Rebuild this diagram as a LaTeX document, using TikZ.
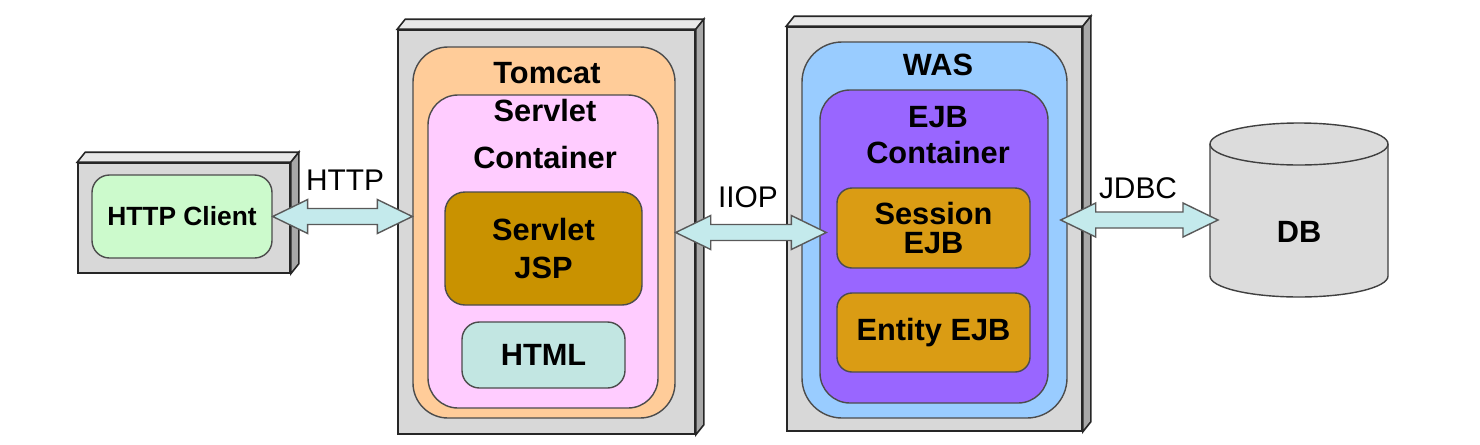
\documentclass[tikz,border=0pt]{standalone}
\usepackage{fontspec}
\setmainfont{Liberation Sans}
\usetikzlibrary{calc}
\newlength\pu
\setlength\pu{0.02cm}
\definecolor{framefront}{HTML}{D8D8D8}
\definecolor{frametop}{HTML}{E8E8E8}
\definecolor{frameside}{HTML}{A8A8A8}
\definecolor{clientgreen}{HTML}{CCFACC}
\definecolor{tomcatorange}{HTML}{FFCC99}
\definecolor{servletpink}{HTML}{FFCCFF}
\definecolor{jspbrown}{HTML}{C99200}
\definecolor{htmlcyan}{HTML}{C2E6E2}
\definecolor{wasblue}{HTML}{99CCFF}
\definecolor{ejbpurple}{HTML}{9966FF}
\definecolor{beanorange}{HTML}{DA9C14}
\definecolor{pipecyan}{HTML}{C4EAEC}
\definecolor{dbgray}{HTML}{DCDCDC}
\begin{document}
\begin{tikzpicture}[x=\pu, y=-\pu,
  serverbox/.style={draw=black!85, line width=0.9pt, fill=framefront, inner sep=0pt},
  holder/.style={draw=black!70, line width=0.8pt, inner sep=0pt},
  boxtext/.style={font=\fontsize{17.5}{20}\selectfont\bfseries, align=center, inner sep=0pt},
  protolbl/.style={font=\fontsize{17}{20}\selectfont, inner sep=0pt},
  pipe/.style={draw=black!65, line width=0.8pt, fill=pipecyan,
    to path={let \p1=(\tikztostart), \p2=(\tikztotarget) in
      (\p1) -- (\x1+0.7cm,\y1+0.34cm) -- (\x1+0.7cm,\y1+0.16cm) -- (\x2-0.7cm,\y2+0.16cm)
      -- (\x2-0.7cm,\y2+0.34cm) -- (\p2) -- (\x2-0.7cm,\y2-0.34cm) -- (\x2-0.7cm,\y2-0.16cm)
      -- (\x1+0.7cm,\y1-0.16cm) -- (\x1+0.7cm,\y1-0.34cm) -- cycle}}]
  \fill[white] (0,0) rectangle (1480,444);
  \useasboundingbox (0,0) rectangle (1480,444);
  % server frames
  \node[serverbox, minimum width=212*\pu, minimum height=110*\pu] (clientframe) at (184,218) {};
  \node[serverbox, minimum width=297*\pu, minimum height=404*\pu] (tomcatframe) at (546.5,232) {};
  \node[serverbox, minimum width=295*\pu, minimum height=404*\pu] (wasframe) at (934.5,229) {};
  \foreach \f in {clientframe,tomcatframe,wasframe} {
    \draw[serverbox, fill=frametop] (\f.north west) -- ++(8,-10) -- ([shift={(8,-10)}]\f.north east) -- (\f.north east) -- cycle;
    \draw[serverbox, fill=frameside] (\f.north east) -- ([shift={(8,-10)}]\f.north east) -- ([shift={(8,-10)}]\f.south east) -- (\f.south east) -- cycle;
  }
  % client
  \node[holder, boxtext, fill=clientgreen, rounded corners=0.35cm, minimum width=180*\pu, minimum height=83*\pu, font=\fontsize{15}{18}\selectfont\bfseries] (client) at (182,216.5) {HTTP Client};
  % tomcat
  \node[holder, fill=tomcatorange, rounded corners=0.7cm, minimum width=262*\pu, minimum height=371*\pu] (tomcat) at (544,232.5) {};
  \node[boxtext] (tomcatlbl) at (547,73) {Tomcat};
  \node[holder, fill=servletpink, rounded corners=0.6cm, minimum width=230*\pu, minimum height=313*\pu] (servletc) at (543,251.5) {};
  \node[boxtext] (servletclbl) at (545,134) {Servlet\\[7pt]Container};
  \node[holder, boxtext, fill=jspbrown, rounded corners=0.4cm, minimum width=197*\pu, minimum height=113*\pu] (jsp) at (543.5,248.5) {Servlet\\[1.5pt]JSP};
  \node[holder, boxtext, fill=htmlcyan, rounded corners=0.35cm, minimum width=163*\pu, minimum height=66*\pu] (html) at (543.5,355) {HTML};
  % was
  \node[holder, fill=wasblue, rounded corners=0.8cm, minimum width=265*\pu, minimum height=376*\pu] (was) at (934.5,230) {};
  \node[boxtext] (waslbl) at (938,65) {WAS};
  \node[holder, fill=ejbpurple, rounded corners=0.6cm, minimum width=228*\pu, minimum height=313*\pu] (ejbc) at (934,246.5) {};
  \node[boxtext] (ejbclbl) at (938,135) {EJB\\Container};
  \node[holder, boxtext, fill=beanorange, rounded corners=0.3cm, minimum width=193*\pu, minimum height=80*\pu] (session) at (933.5,228) {Session\\[-3pt]EJB};
  \node[holder, boxtext, fill=beanorange, rounded corners=0.3cm, minimum width=193*\pu, minimum height=79*\pu] (entity) at (933.5,332.5) {Entity EJB};
  % db
  \path[fill=dbgray, draw=black!75, line width=0.8pt] (1210,144) -- (1210,276) arc[start angle=180, end angle=0, x radius=89, y radius=21]
    -- (1388,144) arc[start angle=0, end angle=-180, x radius=89, y radius=21] -- cycle;
  \draw[black!75, line width=0.8pt] (1210,144) arc[start angle=180, end angle=0, x radius=89, y radius=21];
  \node[boxtext] (db) at (1299,232) {DB};
  % protocols
  \coordinate (iiopend) at ($(ejbc.west |- tomcat.east)+(7,0)$);
  \coordinate (dbedge) at (1218,220);
  \coordinate (jdbcstart) at ($(was.east |- dbedge)+(-7,0)$);
  \draw[pipe] (client.east) to (tomcat.west |- client.east);
  \draw[pipe] (tomcat.east) to (iiopend);
  \draw[pipe] (jdbcstart) to (dbedge);
  \node[protolbl] (httplbl) at (345,180) {HTTP};
  \node[protolbl] (iioplbl) at (748,197) {IIOP};
  \node[protolbl] (jdbclbl) at (1138,188) {JDBC};
\end{tikzpicture}
\end{document}
